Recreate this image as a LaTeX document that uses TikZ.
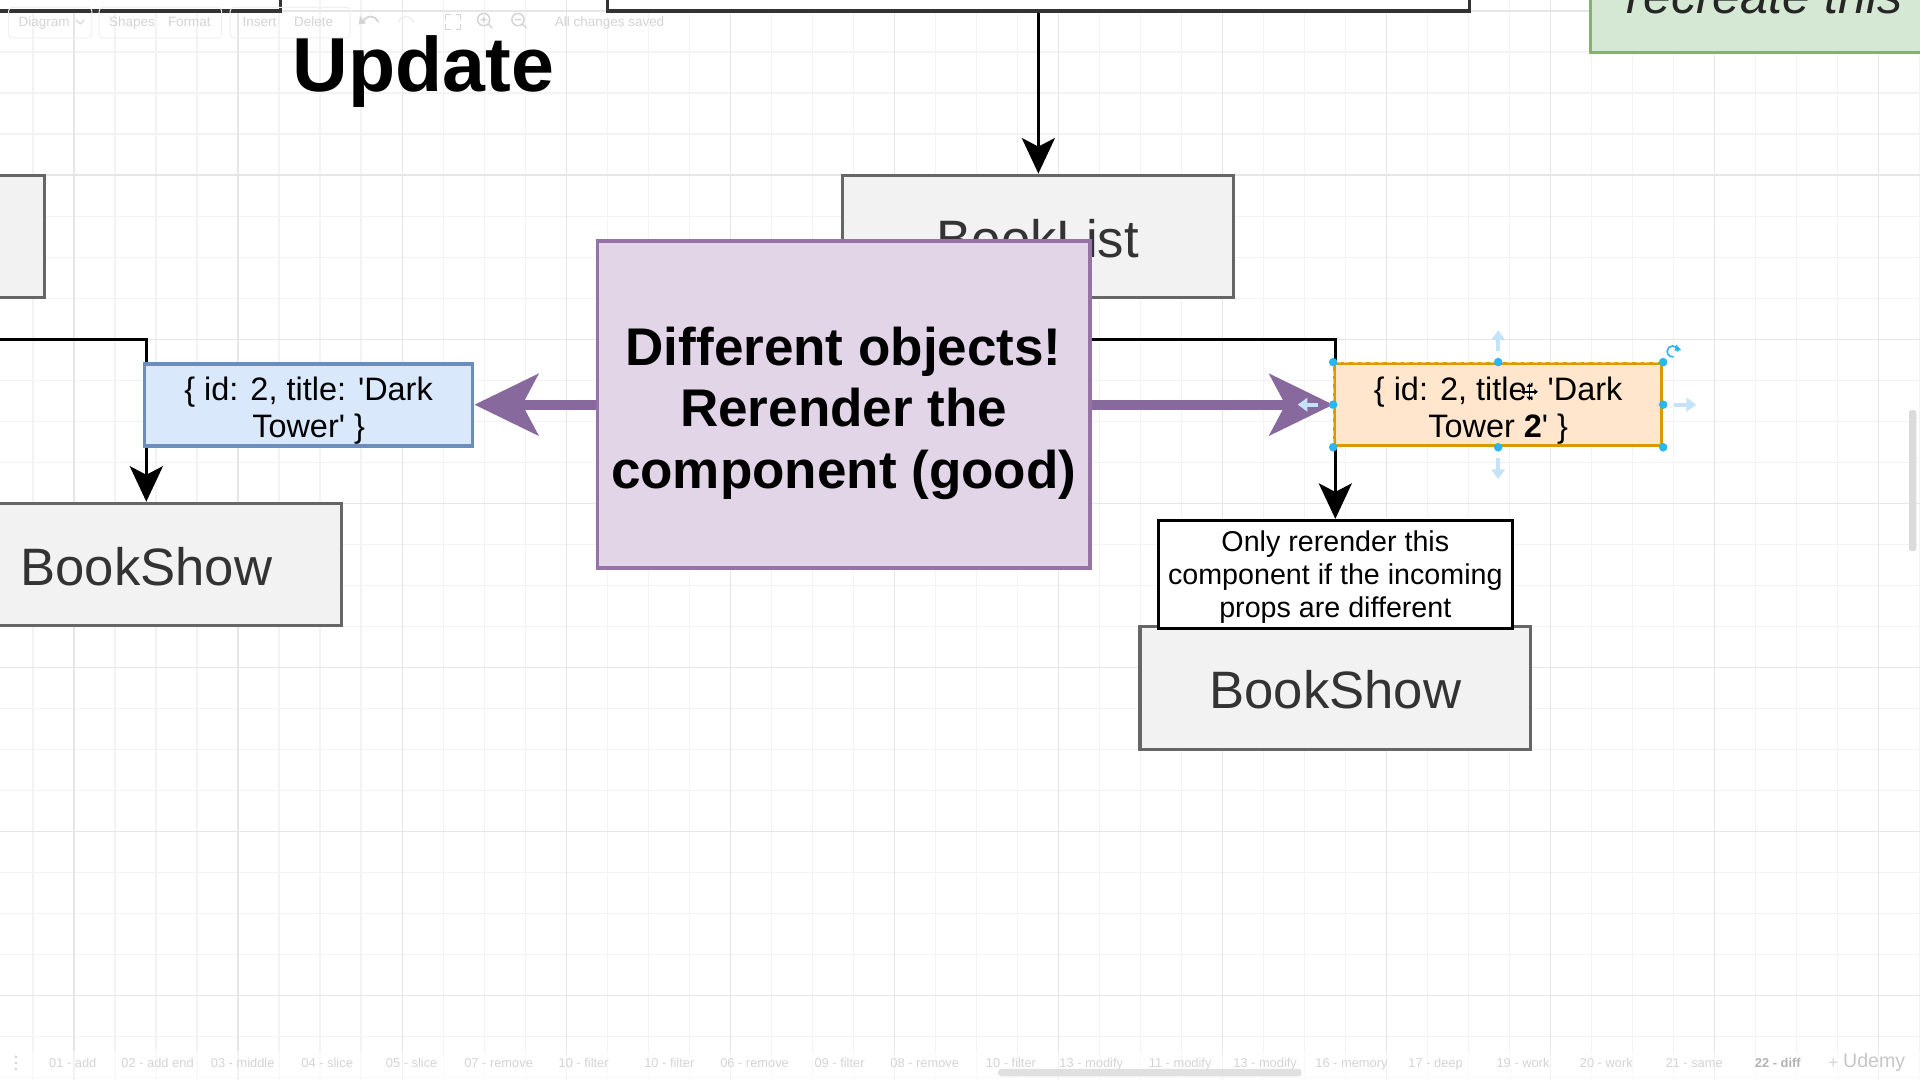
\documentclass[tikz,border=0pt]{standalone}
\usepackage{fontspec}
\newfontfamily\hv{Liberation Sans}
\usetikzlibrary{arrows.meta}
\definecolor{gridmin}{HTML}{F3F3F3}
\definecolor{gridmaj}{HTML}{E6E6E6}
\definecolor{grayfill}{HTML}{F2F2F2}
\definecolor{graystroke}{HTML}{666666}
\definecolor{graytext}{HTML}{333333}
\definecolor{purfill}{HTML}{E1D5E7}
\definecolor{purstroke}{HTML}{9673A6}
\definecolor{purarrow}{HTML}{87699D}
\definecolor{bluefill}{HTML}{DAE8FC}
\definecolor{bluestroke}{HTML}{6C8EBF}
\definecolor{orfill}{HTML}{FFE6CC}
\definecolor{orstroke}{HTML}{D79B00}
\definecolor{grfill}{HTML}{D5E8D4}
\definecolor{grstroke}{HTML}{82B366}
\definecolor{handle}{HTML}{29B6F2}
\definecolor{hover}{HTML}{C4E3F8}
\definecolor{uitext}{HTML}{D4D4D4}
\definecolor{uibox}{HTML}{F0F0F0}
\definecolor{darkedge}{HTML}{333333}
\pgfdeclarelayer{gridlayer}
\pgfdeclarelayer{connlayer}
\pgfsetlayers{gridlayer,connlayer,main}
\tikzset{
  gbox/.style={draw=graystroke, fill=grayfill, line width=2.5pt, inner sep=0pt,
    minimum width=319pt, minimum height=100pt},
  gtext/.style={inner sep=0pt, text=graytext, font=\hv\fontsize{43}{50}\selectfont},
  topbox/.style={draw=darkedge, fill=white, line width=2.5pt, inner sep=0pt, minimum height=109pt},
  conn/.style={draw=black, line width=2.5pt, -{Stealth[length=29pt,width=27pt,inset=7pt]}},
  parrow/.style={draw=purarrow, line width=8pt, -{Stealth[length=52pt,width=50pt,inset=13pt]}},
  propbox/.style={line width=3pt, inner sep=0pt, minimum width=268pt, minimum height=67pt},
  proptext/.style={inner sep=0pt, align=center, font=\hv\fontsize{26.5}{30}\selectfont},
  hov/.style={draw=hover, line width=3pt, -{Triangle[length=8pt,width=11pt]}},
  uilabel/.style={anchor=base west, inner sep=0pt, text=uitext, font=\hv\fontsize{11}{11}\selectfont},
  tablabel/.style={anchor=base west, inner sep=0pt, text=uitext, font=\hv\fontsize{10.5}{10.5}\selectfont},
}
\begin{document}
\begin{tikzpicture}[x=1pt,y=-1pt]
\useasboundingbox (0,0) rectangle (1568,882);
\begin{pgfonlayer}{gridlayer}
\fill[white] (0,0) rectangle (1568,882);
\foreach \k in {-5,...,41} {
  \pgfmathsetmacro\gx{194.4+33.5*\k}
  \draw[gridmin, line width=1pt] (\gx,0) -- (\gx,882);
}
\foreach \k in {0,...,26} {
  \pgfmathsetmacro\gy{9+33.5*\k}
  \draw[gridmin, line width=1pt] (0,\gy) -- (1568,\gy);
}
\foreach \k in {-1,...,10} {
  \pgfmathsetmacro\gx{194.4+134*\k}
  \draw[gridmaj, line width=1pt] (\gx,0) -- (\gx,882);
}
\foreach \k in {0,...,6} {
  \pgfmathsetmacro\gy{9+134*\k}
  \draw[gridmaj, line width=1pt] (0,\gy) -- (1568,\gy);
}
\end{pgfonlayer}

% top boxes
\node[topbox, minimum width=529pt] (topl) at (-35.5,-45.5) {};
\node[topbox, minimum width=704pt] (topc) at (848,-45.5) {};
\node[draw=grstroke, fill=grfill, line width=3pt, inner sep=0pt,
      minimum width=341pt, minimum height=103pt] (green) at (1469.5,-8.5) {};
\node[anchor=base west, inner sep=0pt, text=black!85,
      font=\hv\itshape\fontsize{41}{41}\selectfont] (greentxt) at (1328,11) {recreate this};

% title
\node[anchor=base west, inner sep=0pt, font=\hv\bfseries\fontsize{63}{63}\selectfont] (title) at (239,75) {Update};

% boxes
\node[gbox] (lbl) at (-123.5,193) {};
\node[gbox] (booklist) at (847.5,193) {};
\node[gtext] (booklisttxt) at ([yshift=-2pt]booklist.center) {BookList};
\node[gbox] (bsl) at (119.5,461) {};
\node[gtext] (bsltxt) at ([yshift=-2pt]bsl.center) {BookShow};
\node[gbox] (bsr) at (1090.5,562) {};
\node[gtext] (bsrtxt) at ([yshift=-1.5pt]bsr.center) {BookShow};
\node[draw=black, fill=white, line width=2.5pt, inner sep=0pt,
      minimum width=289pt, minimum height=88pt] (only) at (1090.5,469) {};
\node[inner sep=0pt, align=center, font=\hv\fontsize{23.4}{27}\selectfont] (onlytxt)
  at ([yshift=-2.5pt]only.center) {Only rerender this\\component if the incoming\\props are different};
\node[propbox, draw=bluestroke, fill=bluefill] (blue) at (252,330.5) {};
\node[proptext] (bluetxt) at ([yshift=-5pt]blue.center) {\{ id: 2, title: 'Dark\\Tower' \}};
\node[propbox, draw=orstroke, fill=orfill, line width=2.5pt, minimum width=267pt] (orange) at (1223.5,330.5) {};
\node[proptext] (orangetxt) at ([yshift=-5pt]orange.center) {\{ id: 2, title: 'Dark\\Tower \textbf{2}' \}};
\draw[white, opacity=0.5, line width=0.9pt, dash pattern=on 4pt off 3pt]
  (orange.north west) rectangle (orange.south east);
\node[draw=purstroke, fill=purfill, line width=3pt, inner sep=0pt,
      minimum width=402pt, minimum height=267pt] (purple) at (689,330.5) {};
\node[inner sep=0pt, align=center, font=\hv\bfseries\fontsize{43.3}{50}\selectfont] (purpletxt)
  at ([yshift=-7pt]purple.center) {Different objects!\\Rerender the\\component (good)};

% connectors
\begin{pgfonlayer}{connlayer}
\draw[conn] (topc.south) -- (topc.south |- booklist.north);
\draw[conn] (lbl.south) -- ++(0,33) -| (bsl.north);
\draw[conn] (booklist.south) -- ++(0,33) -| (only.north);
\end{pgfonlayer}

% purple arrows
\draw[parrow] (purple.west) -- (blue.east);
\draw[parrow] (purple.east) -- (orange.west);

% selection handles
\foreach \a in {north west,north,north east,west,east,south west,south,south east}
  \fill[handle] (orange.\a) circle (3.5pt);
\draw[hov] ([yshift=9pt]orange.north) -- ([yshift=26pt]orange.north);
\draw[hov] ([yshift=-9pt]orange.south) -- ([yshift=-26pt]orange.south);
\draw[hov] ([xshift=9pt]orange.east) -- ([xshift=27pt]orange.east);
\draw[hov] ([xshift=-12pt]orange.west) -- ([xshift=-29pt]orange.west);
\draw[handle, line width=1.3pt] (1370.5,287) arc[start angle=0, end angle=280, radius=4.5pt];
\fill[handle] (1369,281.5) -- (1373,286) -- (1367.5,286.5) -- cycle;
% move cursor
\begin{scope}[shift={(1249,320)}]
\draw[white, line width=3pt] (-7,0) -- (7,0) (0,-7) -- (0,7);
\draw[black, line width=1.1pt, {Triangle[length=3pt,width=4.5pt]}-{Triangle[length=3pt,width=4.5pt]}] (-7,0) -- (7,0);
\draw[black, line width=1.1pt, {Triangle[length=3pt,width=4.5pt]}-{Triangle[length=3pt,width=4.5pt]}] (0,-7) -- (0,7);
\end{scope}

% toolbar (faint)
\draw[uibox, rounded corners=3pt, line width=0.8pt] (7,6) rectangle (75,31);
\draw[uibox, rounded corners=3pt, line width=0.8pt] (81,6) rectangle (181,31);
\draw[uibox, rounded corners=3pt, line width=0.8pt] (188,6) rectangle (286,31);
\node[uilabel] (tDiagram) at (15,22) {Diagram};
\draw[uitext, line width=0.9pt] (62,16) -- (65.5,19.5) -- (69,16);
\node[uilabel] (tShapes) at (89,22) {Shapes};
\node[uilabel] (tFormat) at (137,22) {Format};
\node[uilabel] (tInsert) at (198,22) {Insert};
\node[uilabel] (tDelete) at (240,22) {Delete};
\draw[uitext, line width=1.4pt] (296,18) .. controls (300,12) and (306,12) .. (309,18);
\fill[uitext] (294,13) -- (299,19) -- (293,20) -- cycle;
\draw[uibox, line width=1.4pt] (325,18) .. controls (328,12) and (334,12) .. (338,18);
\draw[uitext, line width=1.2pt] (364,16) -- (364,12) -- (368,12) (372,12) -- (376,12) -- (376,16)
  (376,20) -- (376,24) -- (372,24) (368,24) -- (364,24) -- (364,20);
\draw[uitext, line width=1.2pt] (395,16) circle (5pt) (398.5,19.5) -- (402,23) (392.5,16) -- (397.5,16) (395,13.5) -- (395,18.5);
\draw[uitext, line width=1.2pt] (423,16) circle (5pt) (426.5,19.5) -- (430,23) (420.5,16) -- (425.5,16);
\node[uilabel] (tSaved) at (453,22) {All changes saved};

% bottom tab bar (faint)
\fill[white, opacity=0.5] (0,858) rectangle (1568,882);
\fill[uitext] (13,863) circle (1.2pt) (13,868) circle (1.2pt) (13,873) circle (1.2pt);
\foreach \x/\t in {40/01 - add, 99/02 - add end, 172/03 - middle, 246/04 - slice, 315/05 - slice,
  379/07 - remove, 456/10 - filter, 526/10 - filter, 588/06 - remove, 665/09 - filter,
  727/08 - remove, 805/10 - filter, 865/13 - modify, 938/11 - modify, 1007/13 - modify,
  1074/16 - memory, 1150/17 - deep, 1222/19 - work, 1290/20 - work, 1360/21 - same}
  \node[tablabel] at (\x,872) {\t};
\node[tablabel, text=black!30, font=\hv\bfseries\fontsize{10.5}{10.5}\selectfont] (tdiff) at (1433,872) {22 - diff};
\node[tablabel, font=\hv\fontsize{14}{14}\selectfont] (tplus) at (1493,873) {+};
\node[tablabel, text=black!22, font=\hv\fontsize{16}{16}\selectfont] (tudemy) at (1505,872) {Udemy};
\fill[black!12, rounded corners=2.5pt] (815,873) rectangle (1063,879);
\fill[black!14, rounded corners=2pt] (1559,335) rectangle (1565,450);
\end{tikzpicture}
\end{document}
